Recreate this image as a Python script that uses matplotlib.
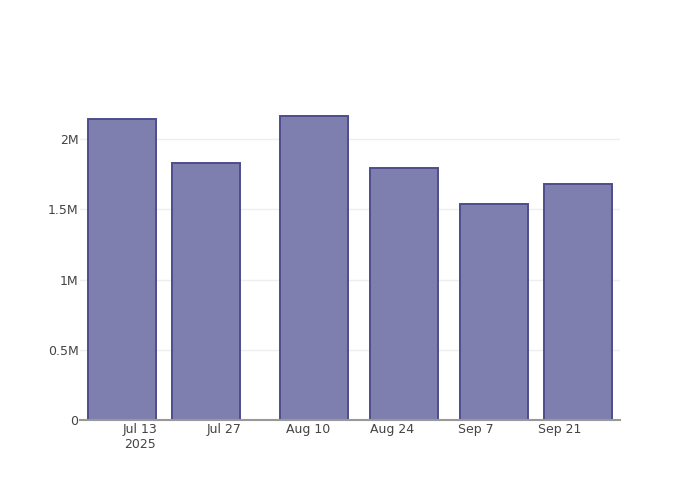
import numpy as np
import matplotlib
matplotlib.use('Agg')
import matplotlib.pyplot as plt
import matplotlib.dates as mdates
from datetime import datetime, timedelta

# 데이터
dates = ['2025-07-10', '2025-07-24', '2025-08-11', '2025-08-26', '2025-09-10', '2025-09-24']
values = [2142000, 1831000, 2166000, 1796000, 1535000, 1680000]
tick_dates = ['2025-07-13', '2025-07-27', '2025-08-10', '2025-08-24', '2025-09-07', '2025-09-21']
tick_labels = ['Jul 13\n2025', 'Jul 27', 'Aug 10', 'Aug 24', 'Sep 7', 'Sep 21']
y_ticks = [0, 500000, 1000000, 1500000, 2000000]
y_labels = ['0', '0.5M', '1M', '1.5M', '2M']

plt.rcParams['font.family'] = ['DejaVu Sans']

x = [datetime.strptime(d, '%Y-%m-%d') for d in dates]
xt = [datetime.strptime(d, '%Y-%m-%d') for d in tick_dates]

fig = plt.figure(figsize=(7, 5), dpi=100)
ax = fig.add_axes([80/700, 80/500, 540/700, 320/500])

ax.bar(x, values, width=11.33, color='#7f7faf', edgecolor='#4d4d8e', linewidth=1.4, zorder=3)

ax.set_xlim(datetime(2025, 7, 3), datetime(2025, 7, 3) + timedelta(days=90))
ax.set_ylim(0, 2278000)

ax.set_yticks(y_ticks)
ax.set_yticklabels(y_labels)
ax.set_xticks(xt)
ax.set_xticklabels(tick_labels)

ax.grid(axis='y', color='#eeeeee', linewidth=1, zorder=0)
ax.tick_params(axis='both', length=0, labelsize=9, colors='#444444')
ax.tick_params(axis='y', pad=1)
ax.tick_params(axis='x', pad=2)
for s in ['top', 'right', 'left']:
    ax.spines[s].set_visible(False)
ax.spines['bottom'].set_color('#999999')
ax.spines['bottom'].set_linewidth(1.5)
ax.spines['bottom'].set_zorder(4)

fig.savefig('out.png', dpi=100)
